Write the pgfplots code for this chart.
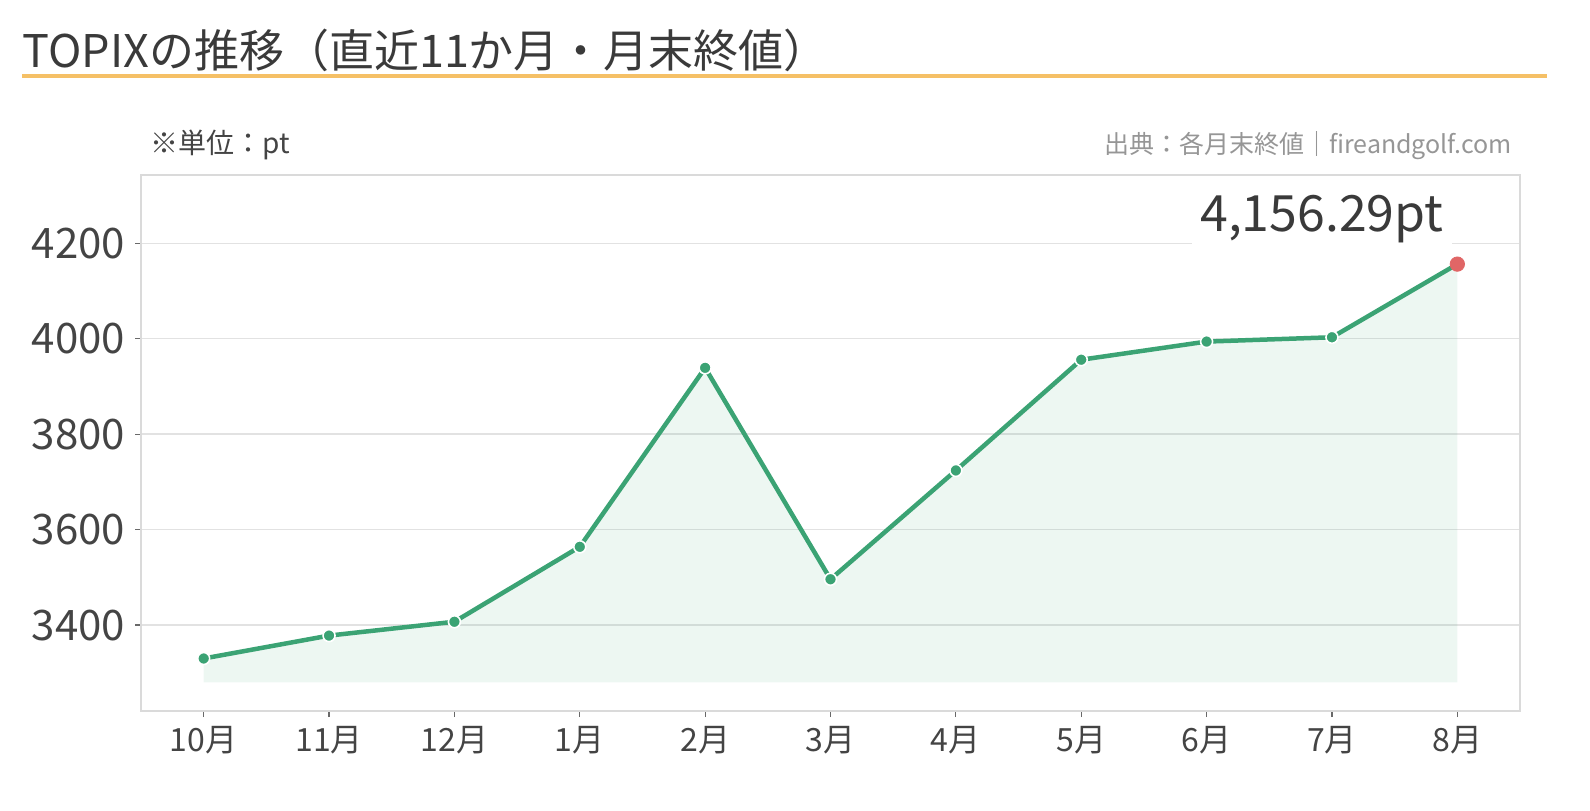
\documentclass[border=0pt]{standalone}
\usepackage{fontspec}
\setmainfont{Noto Sans CJK JP}
\usepackage{pgfplots}
\usepackage{pgfplotstable}
\pgfplotsset{compat=1.18}
\definecolor{linegreen}{RGB}{59,163,116}
\definecolor{ptred}{RGB}{224,102,102}
\definecolor{titleorange}{RGB}{245,192,102}
\definecolor{gridgray}{RGB}{226,226,226}
\definecolor{framegray}{RGB}{218,218,218}
\definecolor{textdark}{RGB}{58,58,58}
\definecolor{ticktext}{RGB}{68,68,68}
\definecolor{srcgray}{RGB}{150,150,150}

\pgfplotstableread{
x y
0 3330
1 3378
2 3407
3 3564
4 3939
5 3496
6 3724
7 3956
8 3994
9 4003
10 4156.29
}\topix

\begin{document}
\begin{tikzpicture}
\useasboundingbox (0,0) rectangle (795pt,405pt);
\node[anchor=base west, font=\fontsize{22.5}{26}\selectfont, text=textdark, inner sep=0] at (11pt,371pt) {TOPIXの推移（直近11か月・月末終値）};
\draw[titleorange, line width=2.25pt] (11pt,367pt) -- (773.5pt,367pt);
\node[anchor=base west, font=\fontsize{14}{16}\selectfont, text=ticktext, inner sep=0] at (75pt,328pt) {※単位：pt};
\node[anchor=base east, font=\fontsize{12.5}{15}\selectfont, text=srcgray, inner sep=0] at (756pt,328pt) {出典：各月末終値｜fireandgolf.com};
\begin{axis}[
  at={(70.5pt,49.5pt)}, anchor=south west,
  scale only axis, width=689.5pt, height=268pt,
  xmin=-0.5, xmax=10.5, ymin=3220, ymax=4343,
  xtick={0,...,10},
  xticklabels={10月,11月,12月,1月,2月,3月,4月,5月,6月,7月,8月},
  ytick={3400,3600,3800,4000,4200},
  /pgf/number format/1000 sep={},
  /pgf/number format/assume math mode=true,
  ymajorgrids,
  grid style={gridgray, line width=0.75pt},
  axis line style={framegray, line width=1pt},
  tick align=outside,
  major tick length=3pt,
  tick style={ticktext!80, line width=0.6pt},
  xtick pos=bottom, ytick pos=left,
  yticklabel style={font=\fontsize{21}{24}\selectfont, text=ticktext, xshift=-1.5pt},
  xticklabel style={font=\fontsize{16}{19}\selectfont, text=ticktext, yshift=-1pt},
  clip=false,
]
\addplot[draw=none, fill=linegreen, fill opacity=0.09] coordinates {
(0,3280) (0,3330) (1,3378) (2,3407) (3,3564) (4,3939) (5,3496) (6,3724) (7,3956) (8,3994) (9,4003) (10,4156.29) (10,3280)} -- cycle;
\addplot[linegreen, line width=2.25pt, mark=*, mark size=3pt, mark indices={1,2,3,4,5,6,7,8,9,10},
  mark options={fill=linegreen, draw=white, line width=0.8pt}] table[x=x,y=y] {\topix};
\addplot[only marks, mark=*, mark size=3.6pt, mark options={fill=ptred, draw=ptred}] coordinates {(10,4156.29)};
\node[fill=white, inner xsep=4pt, inner ysep=1pt, anchor=south, font=\fontsize{25}{30}\selectfont, text=textdark] at (axis cs:8.92,4195) {4,156.29pt};
\end{axis}
\end{tikzpicture}
\end{document}
